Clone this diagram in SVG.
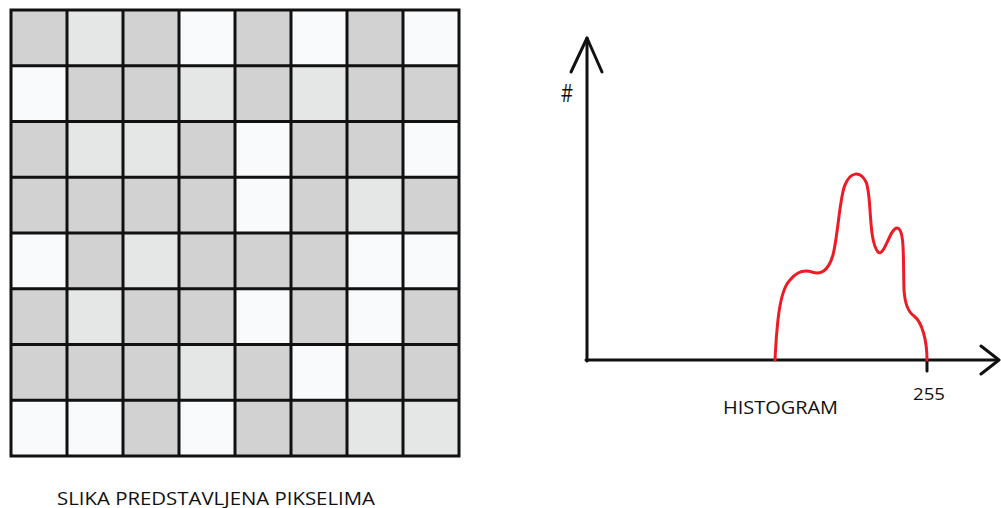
<svg xmlns="http://www.w3.org/2000/svg" width="1001" height="508" viewBox="0 0 1001 508">
<style>
.D{fill:#d2d2d2}.L{fill:#e5e7e6}.W{fill:#f9fafc}
.lbl{font-family:"Open Sans","Liberation Sans",Arial,sans-serif;fill:#111}
.ax{fill:none;stroke:#111;stroke-width:3;stroke-linecap:round;stroke-linejoin:round}
</style>
<rect width="1001" height="508" fill="#fff"/>
<g id="pixel-grid">
<g transform="translate(11,10)">
<!-- row 0 -->
<rect class="D" x="0" y="0" width="56" height="55.75"/><rect class="L" x="56" y="0" width="56" height="55.75"/><rect class="D" x="112" y="0" width="56" height="55.75"/><rect class="W" x="168" y="0" width="56" height="55.75"/><rect class="D" x="224" y="0" width="56" height="55.75"/><rect class="W" x="280" y="0" width="56" height="55.75"/><rect class="D" x="336" y="0" width="56" height="55.75"/><rect class="W" x="392" y="0" width="56" height="55.75"/>
<!-- row 1 -->
<rect class="W" x="0" y="55.75" width="56" height="55.75"/><rect class="D" x="56" y="55.75" width="56" height="55.75"/><rect class="D" x="112" y="55.75" width="56" height="55.75"/><rect class="L" x="168" y="55.75" width="56" height="55.75"/><rect class="D" x="224" y="55.75" width="56" height="55.75"/><rect class="L" x="280" y="55.75" width="56" height="55.75"/><rect class="D" x="336" y="55.75" width="56" height="55.75"/><rect class="D" x="392" y="55.75" width="56" height="55.75"/>
<!-- row 2 -->
<rect class="D" x="0" y="111.5" width="56" height="55.75"/><rect class="L" x="56" y="111.5" width="56" height="55.75"/><rect class="L" x="112" y="111.5" width="56" height="55.75"/><rect class="D" x="168" y="111.5" width="56" height="55.75"/><rect class="W" x="224" y="111.5" width="56" height="55.75"/><rect class="D" x="280" y="111.5" width="56" height="55.75"/><rect class="D" x="336" y="111.5" width="56" height="55.75"/><rect class="W" x="392" y="111.5" width="56" height="55.75"/>
<!-- row 3 -->
<rect class="D" x="0" y="167.25" width="56" height="55.75"/><rect class="D" x="56" y="167.25" width="56" height="55.75"/><rect class="D" x="112" y="167.25" width="56" height="55.75"/><rect class="D" x="168" y="167.25" width="56" height="55.75"/><rect class="W" x="224" y="167.25" width="56" height="55.75"/><rect class="D" x="280" y="167.25" width="56" height="55.75"/><rect class="L" x="336" y="167.25" width="56" height="55.75"/><rect class="D" x="392" y="167.25" width="56" height="55.75"/>
<!-- row 4 -->
<rect class="W" x="0" y="223" width="56" height="55.75"/><rect class="D" x="56" y="223" width="56" height="55.75"/><rect class="L" x="112" y="223" width="56" height="55.75"/><rect class="D" x="168" y="223" width="56" height="55.75"/><rect class="D" x="224" y="223" width="56" height="55.75"/><rect class="D" x="280" y="223" width="56" height="55.75"/><rect class="W" x="336" y="223" width="56" height="55.75"/><rect class="W" x="392" y="223" width="56" height="55.75"/>
<!-- row 5 -->
<rect class="D" x="0" y="278.75" width="56" height="55.75"/><rect class="L" x="56" y="278.75" width="56" height="55.75"/><rect class="D" x="112" y="278.75" width="56" height="55.75"/><rect class="D" x="168" y="278.75" width="56" height="55.75"/><rect class="W" x="224" y="278.75" width="56" height="55.75"/><rect class="D" x="280" y="278.75" width="56" height="55.75"/><rect class="W" x="336" y="278.75" width="56" height="55.75"/><rect class="D" x="392" y="278.75" width="56" height="55.75"/>
<!-- row 6 -->
<rect class="D" x="0" y="334.5" width="56" height="55.75"/><rect class="D" x="56" y="334.5" width="56" height="55.75"/><rect class="D" x="112" y="334.5" width="56" height="55.75"/><rect class="L" x="168" y="334.5" width="56" height="55.75"/><rect class="D" x="224" y="334.5" width="56" height="55.75"/><rect class="W" x="280" y="334.5" width="56" height="55.75"/><rect class="D" x="336" y="334.5" width="56" height="55.75"/><rect class="D" x="392" y="334.5" width="56" height="55.75"/>
<!-- row 7 -->
<rect class="W" x="0" y="390.25" width="56" height="55.75"/><rect class="W" x="56" y="390.25" width="56" height="55.75"/><rect class="D" x="112" y="390.25" width="56" height="55.75"/><rect class="W" x="168" y="390.25" width="56" height="55.75"/><rect class="D" x="224" y="390.25" width="56" height="55.75"/><rect class="D" x="280" y="390.25" width="56" height="55.75"/><rect class="L" x="336" y="390.25" width="56" height="55.75"/><rect class="L" x="392" y="390.25" width="56" height="55.75"/>
<path d="M0,0V446M56,0V446M112,0V446M168,0V446M224,0V446M280,0V446M336,0V446M392,0V446M448,0V446M0,0H448M0,55.75H448M0,111.5H448M0,167.25H448M0,223H448M0,278.75H448M0,334.5H448M0,390.25H448M0,446H448" fill="none" stroke="#111" stroke-width="3" stroke-linecap="square"/>
</g>
<text class="lbl" x="57" y="505" font-size="18" textLength="318" lengthAdjust="spacingAndGlyphs">SLIKA PREDSTAVLJENA PIKSELIMA</text>
</g>
<g id="connectors">
<path class="ax" d="M587,361V38"/>
<path class="ax" d="M571,72L587,38L602,72"/>
<path class="ax" d="M586,360H998"/>
<path class="ax" d="M981,346L999,360L981,374"/>
<path class="ax" d="M927,360V371"/>
</g>
<g id="histogram">
<path d="M775,360 C777,320 780,290 790,280 C798,270 806,270 812,272 C820,275 828,272 833,255 C838,235 840,195 845,185 C850,172 860,170 866,182 C872,195 868,240 878,252 C884,258 890,228 897,228 C905,228 903,260 904,290 C905,305 908,312 914,316 C922,322 927,340 927,360" fill="none" stroke="#ec1c24" stroke-width="3" stroke-linecap="round"/>
<text class="lbl" x="561" y="102" font-size="26" textLength="12" lengthAdjust="spacingAndGlyphs">#</text>
<text class="lbl" x="913" y="400" font-size="17" textLength="32" lengthAdjust="spacingAndGlyphs">255</text>
<text class="lbl" x="723" y="414" font-size="18" textLength="115" lengthAdjust="spacingAndGlyphs">HISTOGRAM</text>
</g>
</svg>
